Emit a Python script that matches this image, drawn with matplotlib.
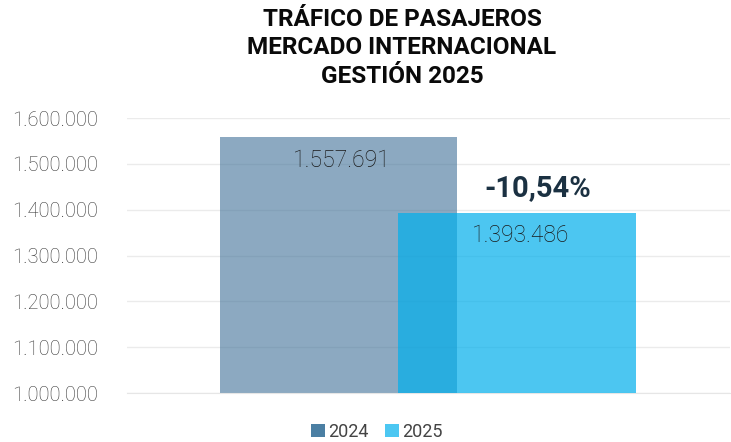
import matplotlib
matplotlib.use('Agg')
import matplotlib.pyplot as plt
from matplotlib.patches import Patch
from matplotlib.ticker import FuncFormatter

plt.rcParams['font.family'] = ['Roboto', 'DejaVu Sans']

# datos
years = ['2024', '2025']
pasajeros = [1557691, 1393486]
variacion = '-10,54%'
yticks = [1000000, 1100000, 1200000, 1300000, 1400000, 1500000, 1600000]

col_2024 = '#3F7198'
col_2025 = '#00AFEC'
leg_cols = ['#4B7FA3', '#4CC7F2']


def miles(v, pos=None):
    return f'{int(v):,}'.replace(',', '.')


W, H = 731, 442
fig = plt.figure(figsize=(W / 100, H / 100), dpi=100)
ax = fig.add_axes([127 / W, (H - 393) / H, (730 - 127) / W, (393 - 118) / H])

xs = [0.351, 0.647]
width = 0.394
ax.bar(xs[0], pasajeros[0], width=width, color=col_2024, alpha=0.6, zorder=2)
ax.bar(xs[1], pasajeros[1], width=width, color=col_2025, alpha=0.7, zorder=3)

ax.set_xlim(0, 1)
ax.set_ylim(1000000, 1600000)
ax.set_yticks(yticks)
ax.yaxis.set_major_formatter(FuncFormatter(miles))
ax.set_xticks([])
ax.tick_params(axis='y', length=0, pad=21, labelsize=14.5, labelcolor='#383838')
for lab in ax.get_yticklabels():
    lab.set_fontweight('light')
ax.grid(axis='y', color='#ebebeb', linewidth=1, zorder=0)
for s in ['top', 'right', 'left']:
    ax.spines[s].set_visible(False)
ax.spines['bottom'].set_color('#e6e6e6')

# etiquetas de valores
ax.text(xs[0] + 0.005, pasajeros[0] - 51000, miles(pasajeros[0]), ha='center', va='center',
        fontsize=16.5, fontweight='light', color='#1a1a1a', zorder=5)
ax.text(xs[1] + 0.006, pasajeros[1] - 49000, miles(pasajeros[1]), ha='center', va='center',
        fontsize=16.5, fontweight='light', color='#1a1a1a', zorder=5)
ax.text(0.682, 1447000, variacion, ha='center', va='center', fontsize=21,
        fontweight='bold', color='#1B3142', zorder=5)

fig.text(402 / W, 1 - 48 / H, 'TRÁFICO DE PASAJEROS\nMERCADO INTERNACIONAL\nGESTIÓN 2025',
         ha='center', va='center', fontsize=17.5, fontweight='bold', color='#0a0a0a',
         linespacing=1.32)

handles = [Patch(facecolor=c, edgecolor='none') for c in leg_cols]
fig.legend(handles, years, loc='center', bbox_to_anchor=(377 / W, 1 - 432 / H),
           ncol=2, frameon=False, fontsize=13, handlelength=0.75, handleheight=0.75,
           handletextpad=0.2, columnspacing=0.9, labelcolor='#444444')

fig.savefig('out.png', dpi=100)
